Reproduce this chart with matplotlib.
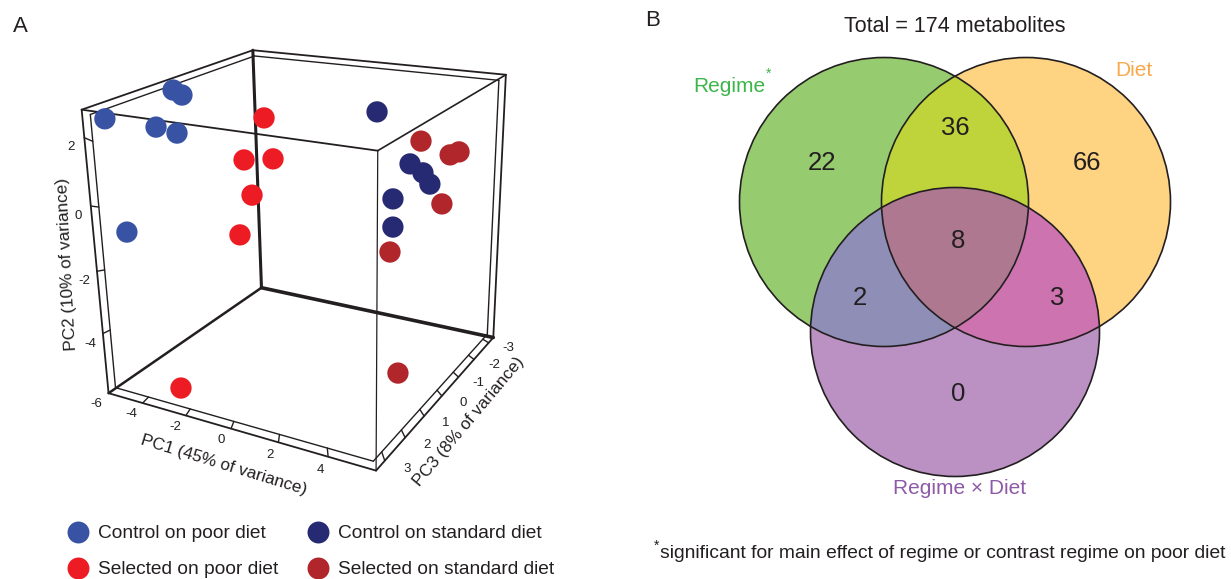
import numpy as np
import matplotlib
matplotlib.use('Agg')
import matplotlib.pyplot as plt
from matplotlib.patches import Circle, Polygon
from matplotlib.lines import Line2D

plt.rcParams['font.family'] = ['Liberation Sans', 'DejaVu Sans']

# ---------------- data ----------------
# PCA scores per group (PC1, PC2, PC3)
cp_pc1 = [-5.07, -5.27, -5.11, -4.53, -4.09, -4.78]
cp_pc2 = [2.49, 2.54, 2.34, 1.88, 1.61, -0.90]
cp_pc3 = [3.1, 0.5, 0.3, 1.8, 1.4, 2.9]
sp_pc1 = [-3.38, -2.69, -2.29, -1.52, -1.81, -2.53]
sp_pc2 = [1.18, 0.43, 0.18, -0.24, -1.40, -5.40]
sp_pc3 = [-1.6, 0.0, -0.9, 0.8, 1.1, 3.1]
cs_pc1 = [1.10, 3.17, 3.50, 3.66, 2.54, 2.55]
cs_pc2 = [1.52, 0.34, -0.02, -0.44, -0.81, -1.73]
cs_pc3 = [-2.4, -1.6, -1.9, -2.1, -1.5, -1.5]
ss_pc1 = [3.39, 4.57, 4.27, 4.12, 2.59, 4.61]
ss_pc2 = [0.97, 0.54, 0.45, -1.07, -2.46, -4.97]
ss_pc3 = [-1.9, -2.5, -2.4, -2.2, -1.3, 0.8]
group_labels = ['Control on poor diet', 'Selected on poor diet',
                'Control on standard diet', 'Selected on standard diet']

pc1_ticks = [-4, -2, 0, 2, 4]
pc2_ticks = [2, 0, -2, -4, -6]
pc3_ticks = [3, 2, 1, 0, -1, -2, -3]

# Venn counts
set_names = ['Regime', 'Diet', 'Regime \u00d7 Diet']
only_regime, only_diet, only_inter = 22, 66, 0
regime_diet, regime_inter, diet_inter, all_three = 36, 2, 3, 8
total = 174

W, H = 1231, 579
fig = plt.figure(figsize=(W/100, H/100), dpi=100)
LC = '#231f20'

# ---------------- panel A: 3D PCA ----------------
ax = fig.add_axes([0.04303, 0.15695, 0.40154, 0.85371], projection='3d', computed_zorder=False)
PC1_LIM = (-5.6435, 5.8406)
PC3_LIM = (3.4061, -3.3282)
PC2_LIM = (-6.0, 2.793)
ax.set_xlim(*PC1_LIM); ax.set_ylim(*PC3_LIM); ax.set_zlim(*PC2_LIM)
ax.view_init(elev=21.0021, azim=-60.2953, roll=1.1271)
ax.set_proj_type('persp', focal_length=0.40748)
ax.set_box_aspect((1, 0.9849, 0.9803))
ax.set_axis_off()

x0, x1 = PC1_LIM; y0, y1 = PC3_LIM; z0, z1 = PC2_LIM
C = np.array([(x0+x1)/2, (y0+y1)/2, (z0+z1)/2])
V = {'TFL': (x0, y0, z1), 'TBL': (x0, y1, z1), 'TBR': (x1, y1, z1), 'TFR': (x1, y0, z1),
     'BFL': (x0, y0, z0), 'BBL': (x0, y1, z0), 'BBR': (x1, y1, z0), 'BFR': (x1, y0, z0)}
K = 0.035

def inner(P):
    return C + (1-K)*(np.asarray(P, float) - C)

def seg(P, Q, lw):
    ax.plot([P[0], Q[0]], [P[1], Q[1]], [P[2], Q[2]], color=LC, lw=lw,
            solid_capstyle='round', clip_on=False, zorder=1)

# outer frame drawn as a double line, inner edges single
hexa = ['TFL', 'TBL', 'TBR', 'BBR', 'BFR', 'BFL', 'TFL']
for a, b in zip(hexa[:-1], hexa[1:]):
    seg(V[a], V[b], 1.3)
    seg(inner(V[a]), inner(V[b]), 1.0)
seg(V['TFL'], V['TFR'], 1.3)
seg(V['TFR'], V['TBR'], 1.2)
seg(V['TFR'], V['BFR'], 0.9)
seg(V['BBL'], V['BBR'], 2.6)
seg(V['BBL'], V['TBL'], 2.2)
seg(V['BBL'], V['BFL'], 1.8)

TFS = 9.5
for t in pc1_ticks:
    P = (t, y0, z0); seg(P, inner(P), 1.0)
    ax.text(t+0.25, y0+0.6, z0+0.1, f'{t}', ha='center', va='center', fontsize=TFS, color=LC)
for t in pc2_ticks:
    P = (x0, y0, t)
    if t != pc2_ticks[-1]:
        seg(P, inner(P), 1.0)
    ax.text(x0-0.05, y0+0.4, t-0.12, f'{t}', ha='center', va='center', fontsize=TFS, color=LC)
for t in pc3_ticks:
    P = (x1, t, z0); seg(P, inner(P), 1.0)
    ax.text(x1+0.85, t, z0-0.05, f'{t}', ha='center', va='center', fontsize=TFS, color=LC)

colors = ['#3953a4', '#ed1c24', '#262a73', '#b0262a']
series = [(cp_pc1, cp_pc2, cp_pc3), (sp_pc1, sp_pc2, sp_pc3),
          (cs_pc1, cs_pc2, cs_pc3), (ss_pc1, ss_pc2, ss_pc3)]
for (p1, p2, p3), col in zip(series, colors):
    ax.scatter(p1, p3, p2, s=235, c=col, edgecolors='none',
               depthshade=False, zorder=5, clip_on=False)

def ftext(px, py, s, **kw):
    fig.text(px/W, 1-py/H, s, **kw)

ftext(224, 465, 'PC1 (45% of variance)', rotation=-17, ha='center', va='center', fontsize=12.3, color=LC)
ftext(67, 264, 'PC2 (10% of variance)', rotation=93, ha='center', va='center', fontsize=12.3, color=LC)
ftext(469, 422, 'PC3 (8% of variance)', rotation=50, ha='center', va='center', fontsize=12.3, color=LC)
ftext(20, 27, 'A', ha='center', va='center', fontsize=16, color=LC)
ftext(653, 21, 'B', ha='center', va='center', fontsize=16, color=LC)

for col in range(2):
    idx = [col*2, col*2+1]
    hs = [Line2D([], [], ls='none', marker='o', ms=15.8, mfc=colors[i], mec='none') for i in idx]
    leg = fig.legend(hs, [group_labels[i] for i in idx], loc='upper left',
                     bbox_to_anchor=((66.5 + 240*col)/W, 1-525/H), frameon=False,
                     fontsize=13.8, handlelength=1.2, handletextpad=0.46, labelspacing=0.96,
                     borderpad=0, borderaxespad=0)
    for t in leg.get_texts():
        t.set_color(LC)

# ---------------- panel B: Venn diagram ----------------
bx = fig.add_axes([640/W, 0, 591/W, 1])
bx.set_xlim(640, 1231); bx.set_ylim(579, 0); bx.set_axis_off()

cA, cB, cC = np.array([884.0, 202.0]), np.array([1026.0, 202.0]), np.array([955.0, 332.0])
RAD = 144.5
fills = {'R': '#96cc6f', 'D': '#fed382', 'X': '#ba91c2', 'RD': '#bed43a',
         'RX': '#8f8eb7', 'DX': '#cd73af', 'RDX': '#ae7891'}

def circ(c, **kw):
    return Circle(c, RAD, transform=bx.transData, **kw)

bx.add_patch(circ(cA, fc=fills['R'], ec='none'))
bx.add_patch(circ(cB, fc=fills['D'], ec='none'))
bx.add_patch(circ(cC, fc=fills['X'], ec='none'))
for c_fill, c_clip, key in [(cB, cA, 'RD'), (cC, cA, 'RX'), (cC, cB, 'DX')]:
    p = circ(c_fill, fc=fills[key], ec='none')
    bx.add_patch(p)
    p.set_clip_path(circ(c_clip))

def lens(ca, cb, n=200):
    d = np.linalg.norm(cb - ca); al = np.arccos(d/(2*RAD))
    fa = np.arctan2(*(cb - ca)[::-1]); fb = np.arctan2(*(ca - cb)[::-1])
    ta = np.linspace(fa - al, fa + al, n); tb = np.linspace(fb - al, fb + al, n)
    pa = ca + RAD*np.column_stack([np.cos(ta), np.sin(ta)])
    pb = cb + RAD*np.column_stack([np.cos(tb), np.sin(tb)])
    return np.vstack([pa, pb])

tri = Polygon(lens(cA, cB), closed=True, fc=fills['RDX'], ec='none', transform=bx.transData)
bx.add_patch(tri)
tri.set_clip_path(circ(cC))
for c in (cA, cB, cC):
    bx.add_patch(circ(c, fc='none', ec=LC, lw=1.2))

NFS = 18.5
region_counts = [(only_regime, (822, 163)), (regime_diet, (955, 128)), (only_diet, (1087, 163)),
                 (all_three, (958, 241)), (regime_inter, (860, 298)), (diet_inter, (1057, 298)),
                 (only_inter, (958, 394))]
for n, (px, py) in region_counts:
    bx.text(px, py, str(n), ha='center', va='center', fontsize=NFS, color=LC)

bx.text(955, 27, f'Total = {total} metabolites', ha='center', va='center', fontsize=15.5, color=LC)
bx.text(729, 87, set_names[0], ha='center', va='center', fontsize=15, color='#3cb54a')
bx.text(769, 74, '*', ha='center', va='center', fontsize=10, color='#3cb54a')
bx.text(1134, 71, set_names[1], ha='center', va='center', fontsize=15, color='#f9a94b')
bx.text(960, 489, set_names[2], ha='center', va='center', fontsize=15, color='#8e5aa7')
bx.text(657, 546, '*', ha='center', va='center', fontsize=10, color=LC)
bx.text(660, 553, 'significant for main effect of regime or contrast regime on poor diet',
        ha='left', va='center', fontsize=13.85, color=LC)

fig.savefig('out.png', dpi=100)
